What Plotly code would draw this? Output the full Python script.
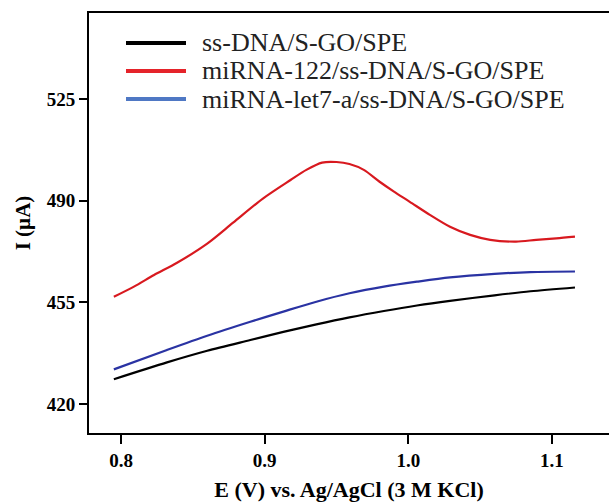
import plotly.graph_objects as go

# ---- data ----
series_names = ["ss-DNA/S-GO/SPE", "miRNA-122/ss-DNA/S-GO/SPE", "miRNA-let7-a/ss-DNA/S-GO/SPE"]

black_x = [0.795, 0.832, 0.860, 0.890, 0.913, 0.936, 0.959, 0.983, 1.006, 1.029, 1.060, 1.085, 1.116]
black_y = [428.5, 434.3, 438.3, 442.0, 444.8, 447.4, 449.8, 452.0, 453.9, 455.5, 457.4, 458.8, 460.1]

red_x = [0.795, 0.809, 0.823, 0.839, 0.860, 0.878, 0.899, 0.918, 0.929, 0.940, 0.950, 0.959,
         0.969, 0.980, 0.990, 1.001, 1.015, 1.029, 1.043, 1.057, 1.075, 1.089, 1.103, 1.116]
red_y = [456.9, 460.4, 464.4, 468.6, 475.2, 482.4, 490.8, 497.1, 500.6, 503.1, 503.3, 502.6,
         500.6, 496.5, 493.1, 489.6, 485.1, 481.0, 478.2, 476.5, 475.9, 476.5, 477.0, 477.6]

blue_x = [0.795, 0.832, 0.860, 0.890, 0.913, 0.936, 0.959, 0.983, 1.006, 1.029, 1.060, 1.085, 1.116]
blue_y = [431.9, 438.6, 443.5, 448.3, 451.8, 455.2, 458.1, 460.4, 462.1, 463.6, 464.8, 465.4, 465.6]

x_ticks = [0.8, 0.9, 1.0, 1.1]
x_tick_labels = ["0.8", "0.9", "1.0", "1.1"]
y_ticks = [420, 455, 490, 525]
y_tick_labels = ["420", "455", "490", "525"]

curve_colors = ["#000000", "#d8191f", "#2a33a3"]
legend_colors = ["#000000", "#e5232a", "#4f78c4"]

FONT = "Liberation Serif, Times New Roman, serif"

fig = go.Figure()
for name, xs, ys, c in zip(series_names, [black_x, red_x, blue_x], [black_y, red_y, blue_y], curve_colors):
    fig.add_trace(go.Scatter(x=xs, y=ys, mode="lines", name=name,
                             line=dict(color=c, width=2.2, shape="spline", smoothing=0.8),
                             showlegend=False, hoverinfo="skip"))

# manual legend (long line samples as in the reference)
# plot area spans 520 px wide (x 89..609) and 420 px tall (y 13..433)
PW = 520
leg_y = [(433 - 43) / 420, (433 - 71) / 420, (433 - 99) / 420]
lx0, lx1, tx = (126 - 89) / PW, (186 - 89) / PW, (200 - 89) / PW
for name, c, yy in zip(series_names, legend_colors, leg_y):
    fig.add_shape(type="line", xref="paper", yref="paper", x0=lx0, x1=lx1, y0=yy, y1=yy,
                  line=dict(color=c, width=4))
    fig.add_annotation(xref="paper", yref="paper", x=tx, y=yy, text=name, showarrow=False,
                       xanchor="left", yanchor="middle",
                       font=dict(family=FONT, size=26, color="#222222"))

fig.update_layout(
    width=609, height=504,
    margin=dict(l=89, r=0, t=13, b=71),
    paper_bgcolor="white", plot_bgcolor="white",
    showlegend=False, hovermode=False,
)
fig.update_xaxes(
    range=[0.7777, 0.7777 + PW / 1436.5],
    tickvals=x_ticks, ticktext=x_tick_labels,
    ticks="outside", ticklen=9, tickwidth=2, tickcolor="black",
    showline=True, linewidth=2, linecolor="black", mirror=True,
    showgrid=False, zeroline=False,
    tickfont=dict(family=FONT, size=19, color="black", weight="bold"),
    title=dict(text="E (V) vs. Ag/AgCl (3 M KCl)", standoff=12,
               font=dict(family=FONT, size=22, color="black", weight="bold")),
)
fig.update_yaxes(
    range=[410, 554.6],
    tickvals=y_ticks, ticktext=y_tick_labels,
    ticks="outside", ticklen=8, tickwidth=2, tickcolor="black",
    showline=True, linewidth=2, linecolor="black", mirror=False,
    showgrid=False, zeroline=False,
    tickfont=dict(family=FONT, size=19, color="black", weight="bold"),
    title=dict(text="I (µA)", standoff=10,
               font=dict(family=FONT, size=21, color="black", weight="bold")),
)

# remove the default page margin so the figure fills the 609x504 window exactly
fig.write_html("out.html",
               config={"displayModeBar": False},
               post_script="document.body.style.margin='0';document.body.style.overflow='hidden';")
